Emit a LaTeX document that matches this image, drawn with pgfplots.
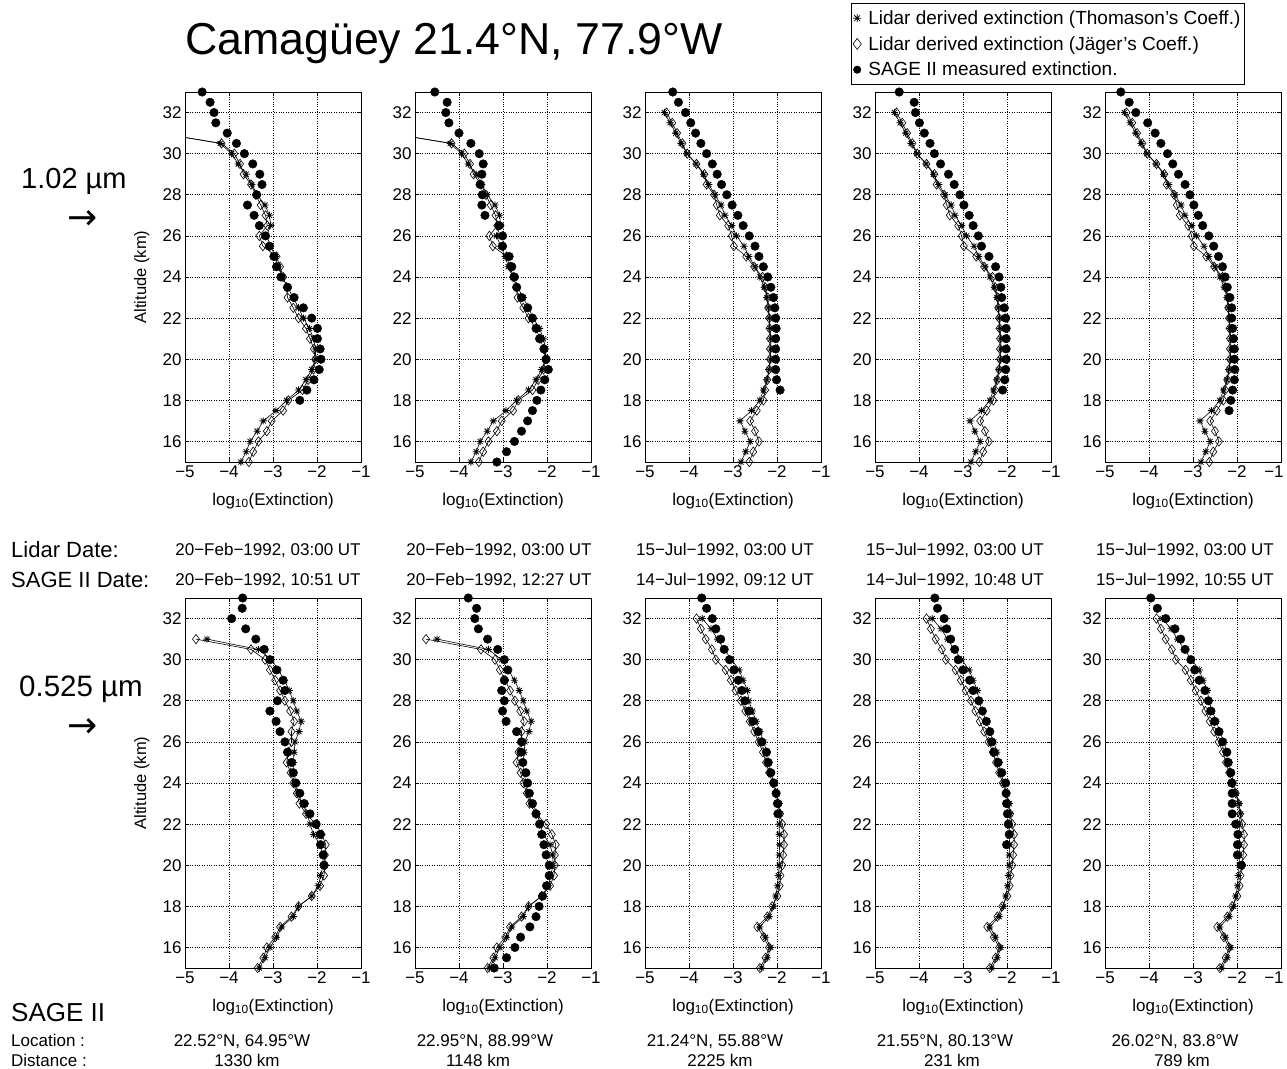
\documentclass[border=0pt]{standalone}
\usepackage{fontspec}
\setmainfont{Liberation Sans}
\newfontfamily\arrowfont{DejaVu Sans}
\usepackage{pgfplots}
\pgfplotsset{compat=1.18}
\usepackage{pgfplotstable}
\newcommand\fs[1]{\fontsize{#1}{#1}\selectfont}

\pgfdeclareplotmark{mstar}{%
 \pgfpathmoveto{\pgfqpoint{0pt}{\pgfplotmarksize}}\pgfpathlineto{\pgfqpoint{0pt}{-\pgfplotmarksize}}%
 \pgfpathmoveto{\pgfqpoint{\pgfplotmarksize}{0pt}}\pgfpathlineto{\pgfqpoint{-\pgfplotmarksize}{0pt}}%
 \pgfpathmoveto{\pgfqpoint{.707\pgfplotmarksize}{.707\pgfplotmarksize}}\pgfpathlineto{\pgfqpoint{-.707\pgfplotmarksize}{-.707\pgfplotmarksize}}%
 \pgfpathmoveto{\pgfqpoint{.707\pgfplotmarksize}{-.707\pgfplotmarksize}}\pgfpathlineto{\pgfqpoint{-.707\pgfplotmarksize}{.707\pgfplotmarksize}}%
 \pgfusepathqstroke}

% lidar profiles: altitude, Thomason, Jaeger
\pgfplotstableread{
a t j
31 -5.6 -5.6
30.5 -4.20 -4.17
30 -3.94 -3.88
29.5 -3.79 -3.75
29 -3.61 -3.67
28.5 -3.48 -3.50
28 -3.36 -3.39
27.5 -3.18 -3.28
27 -3.08 -3.17
26.5 -3.05 -3.13
26 -3.15 -3.31
25.5 -3.05 -3.23
25 -2.95 -2.92
24.5 -2.88 -2.84
24 -2.78 -2.77
23.5 -2.67 -2.69
23 -2.54 -2.67
22.5 -2.42 -2.54
22 -2.31 -2.42
21.5 -2.17 -2.25
21 -2.08 -2.16
20.5 -2.03 -2.07
20 -2.04 -2.04
19.5 -2.12 -2.08
19 -2.25 -2.20
18.5 -2.42 -2.33
18 -2.69 -2.65
17.5 -2.93 -2.77
17 -3.22 -3.03
16.5 -3.36 -3.14
16 -3.52 -3.33
15.5 -3.61 -3.45
15 -3.73 -3.55
}\lidTF
\pgfplotstableread{
a t j
32 -4.56 -4.51
31.5 -4.43 -4.38
31 -4.30 -4.27
30.5 -4.18 -4.15
30 -4.05 -4.04
29.5 -3.84 -3.83
29 -3.67 -3.65
28.5 -3.55 -3.60
28 -3.41 -3.43
27.5 -3.27 -3.37
27 -3.18 -3.30
26.5 -3.03 -3.11
26 -2.92 -3.03
25.5 -2.75 -2.98
25 -2.64 -2.70
24.5 -2.50 -2.52
24 -2.39 -2.33
23.5 -2.29 -2.27
23 -2.23 -2.21
22.5 -2.20 -2.20
22 -2.17 -2.18
21.5 -2.16 -2.17
21 -2.14 -2.16
20.5 -2.14 -2.16
20 -2.15 -2.16
19.5 -2.18 -2.18
19 -2.23 -2.22
18.5 -2.31 -2.27
18 -2.39 -2.31
17.5 -2.58 -2.46
17 -2.84 -2.61
16.5 -2.73 -2.50
16 -2.61 -2.41
15.5 -2.71 -2.54
15 -2.82 -2.63
}\lidTJ
\pgfplotstableread{
a t j
31 -4.50 -4.75
30.5 -3.33 -3.50
30 -3.03 -3.18
29.5 -2.88 -3.07
29 -2.74 -2.95
28.5 -2.63 -2.84
28 -2.54 -2.73
27.5 -2.46 -2.61
27 -2.36 -2.52
26.5 -2.41 -2.58
26 -2.50 -2.58
25.5 -2.52 -2.65
25 -2.54 -2.69
24.5 -2.52 -2.60
24 -2.48 -2.54
23.5 -2.43 -2.46
23 -2.33 -2.40
22.5 -2.22 -2.25
22 -2.16 -2.02
21.5 -2.08 -1.89
21 -1.93 -1.80
20.5 -1.87 -1.82
20 -1.86 -1.82
19.5 -1.92 -1.84
19 -1.97 -1.93
18.5 -2.12 -2.12
18 -2.42 -2.42
17.5 -2.54 -2.58
17 -2.80 -2.84
16.5 -2.92 -2.95
16 -3.07 -3.14
15.5 -3.18 -3.22
15 -3.31 -3.35
}\lidBF
\pgfplotstableread{
a t j
32 -3.70 -3.83
31.5 -3.50 -3.73
31 -3.35 -3.62
30.5 -3.20 -3.48
30 -3.03 -3.39
29.5 -2.86 -3.17
29 -2.77 -3.05
28.5 -2.67 -2.94
28 -2.64 -2.82
27.5 -2.56 -2.72
27 -2.47 -2.62
26.5 -2.39 -2.52
26 -2.30 -2.42
25.5 -2.23 -2.32
25 -2.18 -2.25
24.5 -2.14 -2.18
24 -2.07 -2.10
23.5 -2.02 -2.03
23 -1.95 -1.97
22.5 -1.92 -1.93
22 -1.95 -1.88
21.5 -1.95 -1.84
21 -1.94 -1.84
20.5 -1.95 -1.86
20 -1.95 -1.88
19.5 -1.97 -1.92
19 -1.99 -1.94
18.5 -2.03 -1.99
18 -2.08 -2.11
17.5 -2.18 -2.22
17 -2.39 -2.45
16.5 -2.26 -2.30
16 -2.14 -2.18
15.5 -2.22 -2.26
15 -2.35 -2.39
}\lidBJ

% SAGE II profiles: altitude, extinction
\pgfplotstableread{
a e
33 -4.61
32.5 -4.43
32 -4.34
31.5 -4.30
31 -4.04
30.5 -3.83
30 -3.65
29.5 -3.46
29 -3.30
28.5 -3.25
28 -3.37
27.5 -3.58
27 -3.43
26.5 -3.31
26 -3.17
25.5 -3.08
25 -2.98
24.5 -2.92
24 -2.82
23.5 -2.67
23 -2.52
22.5 -2.31
22 -2.12
21.5 -1.99
21 -1.99
20.5 -1.93
20 -1.91
19.5 -1.95
19 -2.07
18.5 -2.23
18 -2.39
}\sA
\pgfplotstableread{
a e
33 -4.55
32.5 -4.27
32 -4.30
31.5 -4.23
31 -4.00
30.5 -3.73
30 -3.54
29.5 -3.45
29 -3.48
28.5 -3.52
28 -3.47
27.5 -3.48
27 -3.41
26.5 -3.09
26 -3.01
25.5 -3.01
25 -2.86
24.5 -2.80
24 -2.74
23.5 -2.69
23 -2.58
22.5 -2.44
22 -2.33
21.5 -2.25
21 -2.17
20.5 -2.07
20 -2.02
19.5 -1.97
19 -2.05
18.5 -2.14
18 -2.23
17.5 -2.33
17 -2.44
16.5 -2.58
16 -2.74
15.5 -2.92
15 -3.14
}\sB
\pgfplotstableread{
a e
33 -4.37
32.5 -4.24
32 -4.08
31.5 -3.96
31 -3.85
30.5 -3.73
30 -3.60
29.5 -3.47
29 -3.36
28.5 -3.26
28 -3.14
27.5 -3.02
27 -2.89
26.5 -2.77
26 -2.63
25.5 -2.50
25 -2.41
24.5 -2.31
24 -2.21
23.5 -2.14
23 -2.08
22.5 -2.05
22 -2.03
21.5 -2.02
21 -2.03
20.5 -2.03
20 -2.03
19.5 -2.03
19 -2.01
18.5 -1.93
}\sC
\pgfplotstableread{
a e
33 -4.45
32.5 -4.11
32 -4.08
31.5 -3.99
31 -3.88
30.5 -3.75
30 -3.65
29.5 -3.51
29 -3.33
28.5 -3.20
28 -3.07
27.5 -2.98
27 -2.86
26.5 -2.77
26 -2.65
25.5 -2.58
25 -2.41
24.5 -2.26
24 -2.18
23.5 -2.14
23 -2.12
22.5 -2.06
22 -2.03
21.5 -2.02
21 -2.02
20.5 -2.02
20 -2.02
19.5 -2.03
19 -2.05
18.5 -2.10
}\sD
\pgfplotstableread{
a e
33 -4.64
32.5 -4.45
32 -4.30
31.5 -4.03
31 -3.86
30.5 -3.73
30 -3.58
29.5 -3.46
29 -3.33
28.5 -3.18
28 -3.07
27.5 -2.98
27 -2.88
26.5 -2.78
26 -2.64
25.5 -2.53
25 -2.42
24.5 -2.33
24 -2.27
23.5 -2.22
23 -2.16
22.5 -2.12
22 -2.12
21.5 -2.10
21 -2.08
20.5 -2.06
20 -2.06
19.5 -2.05
19 -2.06
18.5 -2.10
18 -2.14
17.5 -2.18
}\sE
\pgfplotstableread{
a e
33 -3.69
32.5 -3.70
32 -3.94
31.5 -3.62
31 -3.39
30.5 -3.20
30 -3.07
29.5 -2.92
29 -2.77
28.5 -2.73
28 -2.90
27.5 -3.07
27 -2.93
26.5 -2.84
26 -2.73
25.5 -2.67
25 -2.58
24.5 -2.54
24 -2.48
23.5 -2.39
23 -2.29
22.5 -2.16
22 -2.02
21.5 -1.93
21 -1.92
20.5 -1.86
20 -1.84
}\sF
\pgfplotstableread{
a e
33 -3.79
32.5 -3.60
32 -3.64
31.5 -3.56
31 -3.35
30.5 -3.12
30 -2.97
29.5 -2.89
29 -2.97
28.5 -3.03
28 -2.97
27.5 -3.01
27 -2.93
26.5 -2.69
26 -2.58
25.5 -2.59
25 -2.55
24.5 -2.48
24 -2.44
23.5 -2.40
23 -2.33
22.5 -2.25
22 -2.17
21.5 -2.12
21 -2.07
20.5 -2.02
20 -1.95
19.5 -1.95
19 -2.01
18.5 -2.10
18 -2.18
17.5 -2.25
17 -2.39
16.5 -2.60
16 -2.73
15.5 -2.92
15 -3.20
}\sG
\pgfplotstableread{
a e
33 -3.71
32.5 -3.60
32 -3.47
31.5 -3.39
31 -3.28
30.5 -3.20
30 -3.08
29.5 -2.98
29 -2.88
28.5 -2.80
28 -2.73
27.5 -2.64
27 -2.55
26.5 -2.43
26 -2.35
25.5 -2.24
25 -2.20
24.5 -2.14
24 -2.07
23.5 -2.02
23 -1.99
22.5 -1.98
}\sH
\pgfplotstableread{
a e
33 -3.64
32.5 -3.58
32 -3.43
31.5 -3.37
31 -3.28
30.5 -3.19
30 -3.11
29.5 -3.00
29 -2.85
28.5 -2.77
28 -2.64
27.5 -2.56
27 -2.47
26.5 -2.39
26 -2.35
25.5 -2.30
25 -2.20
24.5 -2.12
24 -2.03
23.5 -2.02
23 -2.01
22.5 -1.99
22 -1.97
21.5 -1.95
21 -2.01
}\sI
\pgfplotstableread{
a e
33 -3.96
32.5 -3.81
32 -3.62
31.5 -3.41
31 -3.28
30.5 -3.18
30 -3.05
29.5 -2.96
29 -2.86
28.5 -2.73
28 -2.65
27.5 -2.60
27 -2.51
26.5 -2.41
26 -2.33
25.5 -2.23
25 -2.20
24.5 -2.14
24 -2.12
23.5 -2.11
23 -2.11
22.5 -2.11
22 -2.03
21.5 -1.98
21 -1.99
20.5 -1.99
20 -1.90
}\sJ

\pgfplotsset{
 panel/.style={
  scale only axis, width=176pt, height=370pt,
  xmin=-5, xmax=-1, ymin=15, ymax=33,
  xtick={-5,-4,-3,-2,-1}, xticklabels={−5,−4,−3,−2,−1},
  ytick={16,18,...,32},
  /pgf/number format/assume math mode=true,
  tick label style={font=\fs{17}},
  xlabel={log\textsubscript{10}(Extinction)},
  every axis x label/.style={at={(axis description cs:0.5,-0.105)}, anchor=center, font=\fs{17}},
  every axis y label/.style={at={(axis description cs:-0.245,0.5)}, rotate=90, anchor=center, font=\fs{16.5}},
  grid=major, grid style={dotted, black, line width=0.6pt},
  axis line style={line width=0.8pt},
  major tick length=4pt, tick style={line width=0.6pt, black},
  clip mode=individual,
 },
 lastcol/.style={xticklabels={−5,−4,−3,−2,\hspace*{-14pt}−1}},
 thom/.style={black, line width=0.6pt, mark=mstar, mark size=3.6pt, mark options={solid, line width=0.8pt}},
 jag/.style={black, line width=0.6pt, mark=diamond, mark size=4.7pt, mark options={solid, line width=0.6pt}},
 sage/.style={only marks, mark=*, mark size=4.3pt, black},
}

\begin{document}
\begin{tikzpicture}
\useasboundingbox (0pt,0pt) rectangle (1287pt,-1068pt);

% ---------- top row: 1.02 um ----------
\begin{axis}[panel, at={(185pt,-462pt)}, anchor=south west, ylabel={Altitude (km)}]
\addplot[thom] table[x=t,y=a]{\lidTF};
\addplot[jag] table[x=j,y=a]{\lidTF};
\addplot[sage] table[x=e,y=a]{\sA};
\end{axis}
\begin{axis}[panel, at={(415pt,-462pt)}, anchor=south west]
\addplot[thom] table[x=t,y=a]{\lidTF};
\addplot[jag] table[x=j,y=a]{\lidTF};
\addplot[sage] table[x=e,y=a]{\sB};
\end{axis}
\begin{axis}[panel, at={(645pt,-462pt)}, anchor=south west]
\addplot[thom] table[x=t,y=a]{\lidTJ};
\addplot[jag] table[x=j,y=a]{\lidTJ};
\addplot[sage] table[x=e,y=a]{\sC};
\end{axis}
\begin{axis}[panel, at={(875pt,-462pt)}, anchor=south west]
\addplot[thom] table[x=t,y=a]{\lidTJ};
\addplot[jag] table[x=j,y=a]{\lidTJ};
\addplot[sage] table[x=e,y=a]{\sD};
\end{axis}
\begin{axis}[panel, lastcol, at={(1105pt,-462pt)}, anchor=south west,
  legend style={at={(axis description cs:0.795,1.2405)}, anchor=north east, draw=black, line width=1pt,
    font=\fontsize{19}{22}\selectfont, fill=white, inner xsep=2pt, inner ysep=5pt, row sep=6.5pt, column sep=5pt,
    cells={anchor=west}},
  legend cell align=left]
\addlegendimage{only marks, black, mark=mstar, mark size=4pt, mark options={line width=0.8pt}}
\addlegendentry{Lidar derived extinction (Thomason’s Coeff.)}
\addlegendimage{only marks, black, mark=diamond, mark size=5.5pt, mark options={line width=0.6pt}}
\addlegendentry{Lidar derived extinction (Jäger’s Coeff.)}
\addlegendimage{only marks, black, mark=*, mark size=3.5pt}
\addlegendentry{SAGE II measured extinction.}
\addplot[thom, forget plot] table[x=t,y=a]{\lidTJ};
\addplot[jag, forget plot] table[x=j,y=a]{\lidTJ};
\addplot[sage, forget plot] table[x=e,y=a]{\sE};
\end{axis}

% ---------- bottom row: 0.525 um ----------
\begin{axis}[panel, at={(185pt,-968pt)}, anchor=south west, ylabel={Altitude (km)}]
\addplot[thom] table[x=t,y=a]{\lidBF};
\addplot[jag] table[x=j,y=a]{\lidBF};
\addplot[sage] table[x=e,y=a]{\sF};
\end{axis}
\begin{axis}[panel, at={(415pt,-968pt)}, anchor=south west]
\addplot[thom] table[x=t,y=a]{\lidBF};
\addplot[jag] table[x=j,y=a]{\lidBF};
\addplot[sage] table[x=e,y=a]{\sG};
\end{axis}
\begin{axis}[panel, at={(645pt,-968pt)}, anchor=south west]
\addplot[thom] table[x=t,y=a]{\lidBJ};
\addplot[jag] table[x=j,y=a]{\lidBJ};
\addplot[sage] table[x=e,y=a]{\sH};
\end{axis}
\begin{axis}[panel, at={(875pt,-968pt)}, anchor=south west]
\addplot[thom] table[x=t,y=a]{\lidBJ};
\addplot[jag] table[x=j,y=a]{\lidBJ};
\addplot[sage] table[x=e,y=a]{\sI};
\end{axis}
\begin{axis}[panel, lastcol, at={(1105pt,-968pt)}, anchor=south west]
\addplot[thom] table[x=t,y=a]{\lidBJ};
\addplot[jag] table[x=j,y=a]{\lidBJ};
\addplot[sage] table[x=e,y=a]{\sJ};
\end{axis}

% ---------- text ----------
\node[anchor=base west, inner sep=0pt, font=\fs{44.7}] at (185pt,-54pt) {Camagüey 21.4°N, 77.9°W};
\node[anchor=base west, inner sep=0pt, font=\fs{29}] at (21pt,-188pt) {1.02 µm};
\node[anchor=base, inner sep=0pt, font=\arrowfont\fs{36}] at (83pt,-229pt) {→};
\node[anchor=base west, inner sep=0pt, font=\fs{29.5}] at (19pt,-696pt) {0.525 µm};
\node[anchor=base, inner sep=0pt, font=\arrowfont\fs{36}] at (83pt,-737pt) {→};

\node[anchor=base west, inner sep=0pt, font=\fs{22}] at (11pt,-557pt) {Lidar Date:};
\node[anchor=base west, inner sep=0pt, font=\fs{22}] at (11pt,-587pt) {SAGE II Date:};
\begin{scope}[every node/.style={anchor=base, inner sep=0pt, font=\fs{17}}]
\node at (268pt,-555pt) {20−Feb−1992, 03:00 UT};
\node at (499pt,-555pt) {20−Feb−1992, 03:00 UT};
\node at (725pt,-555pt) {15−Jul−1992, 03:00 UT};
\node at (955pt,-555pt) {15−Jul−1992, 03:00 UT};
\node at (1185pt,-555pt) {15−Jul−1992, 03:00 UT};
\node at (268pt,-585pt) {20−Feb−1992, 10:51 UT};
\node at (499pt,-585pt) {20−Feb−1992, 12:27 UT};
\node at (725pt,-585pt) {14−Jul−1992, 09:12 UT};
\node at (955pt,-585pt) {14−Jul−1992, 10:48 UT};
\node at (1185pt,-585pt) {15−Jul−1992, 10:55 UT};
\node at (242pt,-1046pt) {22.52°N, 64.95°W};
\node at (485pt,-1046pt) {22.95°N, 88.99°W};
\node at (715pt,-1046pt) {21.24°N, 55.88°W};
\node at (945pt,-1046pt) {21.55°N, 80.13°W};
\node at (1175pt,-1046pt) {26.02°N, 83.8°W};
\node at (247pt,-1066pt) {1330 km};
\node at (478pt,-1066pt) {1148 km};
\node at (720pt,-1066pt) {2225 km};
\node at (952pt,-1066pt) {231 km};
\node at (1182pt,-1066pt) {789 km};
\end{scope}
\node[anchor=base west, inner sep=0pt, font=\fs{26}] at (11pt,-1021pt) {SAGE II};
\node[anchor=base west, inner sep=0pt, font=\fs{17}] at (11pt,-1046pt) {Location :};
\node[anchor=base west, inner sep=0pt, font=\fs{17}] at (11pt,-1066pt) {Distance :};
\end{tikzpicture}
\end{document}
